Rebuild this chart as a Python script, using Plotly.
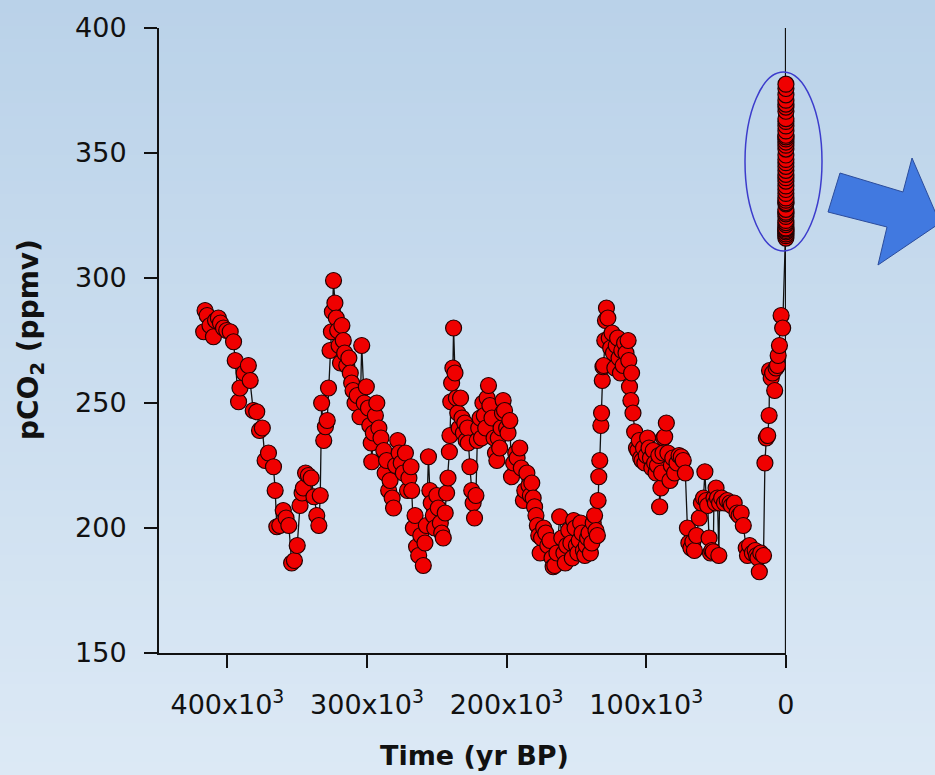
import plotly.graph_objects as go

# ---------------- data ----------------
# Vostok-type ice-core record: age in kyr BP, CO2 in ppmv
age_kyr = [
    417.0, 416.0, 414.5, 412.5, 410.0, 408.5, 406.5, 405.0, 402.8, 400.5,
    398.0, 395.6, 394.4, 392.0, 391.0, 388.0, 385.0, 383.7, 381.5, 379.0,
    377.0, 375.0, 373.0, 370.6, 367.0, 365.8, 364.6, 362.5, 360.0, 358.0,
    356.0, 354.0, 352.0, 350.0, 348.0, 346.5, 345.6, 344.0, 342.0, 340.0,
    338.0, 336.0, 334.5, 333.5, 332.5, 331.0, 329.8, 328.5, 327.6, 326.5,
    325.5, 324.8, 324.0, 323.0, 322.0, 321.0, 320.0, 319.0, 318.0, 317.0,
    316.0, 314.5, 313.0, 312.0, 311.0, 310.0, 308.6, 307.0, 305.0, 303.8,
    302.0, 300.5, 299.0, 298.0, 297.0, 296.6, 295.5, 294.0, 293.0, 291.5,
    290.0, 288.0, 287.0, 286.0, 284.5, 283.5, 282.0, 281.0, 279.5, 278.0,
    277.0, 275.5, 274.0, 272.5, 271.0, 270.0, 268.5, 268.0, 266.8, 265.6,
    264.5, 263.0, 261.5, 259.7, 258.5, 257.5, 256.0, 255.0, 254.0, 252.5,
    251.5, 250.0, 249.0, 247.5, 246.5, 245.4, 244.0, 243.0, 242.0, 241.0,
    240.6, 240.0, 239.4, 238.5, 238.0, 237.0, 236.0, 235.0, 234.0, 233.0,
    232.0, 231.0, 230.0, 229.0, 228.0, 227.5, 226.3, 225.0, 224.0, 223.0,
    222.0, 221.0, 220.0, 219.0, 218.0, 217.0, 216.0, 215.0, 214.0, 213.0,
    212.0, 210.5, 209.0, 208.0, 207.0, 206.0, 205.0, 204.0, 203.0, 202.5,
    201.5, 200.0, 199.0, 197.7, 196.5, 195.0, 193.5, 192.5, 190.6, 189.5,
    188.0, 187.0, 185.5, 184.0, 183.0, 182.0, 181.0, 180.0, 179.0, 178.0,
    177.0, 176.0, 175.0, 173.5, 172.0, 170.5, 169.0, 167.5, 166.7, 165.5,
    164.0, 162.0, 160.5, 159.0, 158.0, 157.0, 155.5, 154.0, 153.0, 152.0,
    151.0, 150.0, 149.0, 148.0, 147.0, 146.0, 145.0, 144.0, 143.0, 142.0,
    141.0, 140.0, 139.0, 138.0, 137.0, 136.0, 135.0, 134.5, 134.0, 133.3,
    132.5, 132.0, 131.5, 131.0, 130.5, 129.7, 129.2, 128.5, 127.5, 126.5,
    125.5, 124.5, 123.5, 122.5, 121.5, 120.5, 119.5, 118.5, 117.5, 116.5,
    115.5, 114.5, 113.0, 112.5, 112.0, 111.0, 110.5, 109.5, 108.3, 107.0,
    106.0, 105.0, 104.0, 103.0, 102.0, 101.0, 100.0, 99.0, 98.0, 97.0,
    96.0, 95.0, 94.0, 93.0, 92.0, 91.0, 90.4, 89.5, 89.0, 88.0,
    87.5, 86.8, 85.6, 84.5, 83.0, 82.0, 81.0, 79.7, 78.0, 76.5,
    74.9, 73.5, 72.0, 70.5, 69.5, 68.0, 66.6, 65.5, 64.0, 62.0,
    60.5, 59.0, 58.0, 57.0, 56.0, 55.0, 54.0, 53.0, 52.0, 51.5,
    50.5, 50.0, 49.0, 48.0, 47.5, 46.0, 44.0, 42.0, 40.0, 39.0,
    37.0, 35.0, 33.5, 32.0, 30.5, 28.4, 27.5, 26.0, 24.0, 22.0,
    21.0, 20.0, 19.0, 18.0, 16.0, 15.0, 14.0, 13.0, 12.0, 11.7,
    10.5, 9.5, 8.0, 7.0, 6.0, 5.5, 4.6, 3.4, 2.3,
]
co2_ice = [
    278.5, 287, 285, 281, 276.5, 283, 284, 282, 280, 279,
    278.5, 274.5, 267, 250.5, 256, 262, 265, 259, 247, 246.5,
    239, 240, 227, 230, 224.5, 215, 200.5, 201, 207, 204,
    201, 186, 187, 193, 209, 214, 216, 222, 221, 220,
    212.5, 205, 201, 213, 250, 235, 240.5, 243, 256, 271,
    278.5, 286.5, 299, 290, 284, 279, 273, 266, 281, 275,
    270, 265, 268, 262, 258, 255, 250, 253, 244.5, 273,
    250, 256.5, 248, 241, 234, 226.5, 238, 245, 250, 240,
    236, 231, 222, 227, 215, 219, 212, 208, 225, 235,
    230, 226, 222, 230, 215, 220, 224.5, 215, 200, 205,
    192.5, 189, 197, 185, 194, 201, 228.5, 215, 210, 205,
    200, 213, 208, 202, 198, 196, 206, 214, 220, 230.5,
    237, 250.5, 258, 264, 280, 262, 252, 246, 240, 252,
    244, 238, 242, 235, 240, 234, 224.5, 215, 210, 204,
    213, 235, 240, 244, 236, 250, 245, 240, 252, 257,
    249, 244, 236, 230, 227, 236, 232, 240, 246, 251,
    247, 240, 238, 243, 220.5, 226, 230, 228, 232, 224,
    211, 215, 222, 217, 213, 218, 212, 208.5, 205, 201,
    197, 190, 196, 200, 198, 193, 195, 188, 184.5, 185,
    190, 204.5, 196, 190, 186, 193, 199, 194, 188, 203,
    200, 193, 190, 195, 202, 198, 191, 189, 193, 196,
    198, 190, 194, 202, 205, 199, 197, 211, 220.5, 227,
    241, 246, 259, 264.5, 265, 275, 283, 288, 284, 276,
    272, 278, 270, 264, 273, 276, 268, 262, 271, 265,
    274, 270, 275, 267, 256.5, 251, 262, 246, 238.5, 232,
    231, 235, 228, 227, 232, 226, 229, 236, 232, 228,
    224, 231, 226, 222, 225, 229, 208.5, 216, 222, 230,
    236, 236.5, 242, 230, 219, 225, 228, 222, 226, 229,
    228.5, 227, 222, 200, 194, 192, 194.5, 191, 197, 204,
    210, 212, 222.5, 211, 209, 196, 190, 191, 190.5, 212,
    210, 216, 212, 189, 210, 212, 210, 211, 210, 209,
    210, 206, 205, 206, 201, 192, 189, 193, 190, 191,
    189, 188, 182.5, 190, 189, 226, 236, 237, 245, 263,
    260, 262, 255, 264, 265, 269, 273, 285, 280,
]
# Instrumental (Mauna Loa) annual means, calendar year and ppmv
ml_year = list(range(1959, 2005))
co2_ml = [
    315.97, 316.91, 317.64, 318.45, 318.99, 319.62, 320.04, 321.38, 322.16, 323.04,
    324.62, 325.68, 326.32, 327.45, 329.68, 330.18, 331.11, 332.04, 333.83, 335.40,
    336.84, 338.75, 340.11, 341.45, 343.05, 344.65, 346.12, 347.42, 349.19, 351.57,
    353.12, 354.39, 355.61, 356.45, 357.10, 358.83, 360.82, 362.61, 363.73, 366.70,
    368.38, 369.55, 371.14, 373.28, 375.80, 377.52,
]
x_tick_vals = [400000, 300000, 200000, 100000, 0]
x_tick_text = ["400x10<sup>3</sup>", "300x10<sup>3</sup>", "200x10<sup>3</sup>",
               "100x10<sup>3</sup>", "0"]
y_tick_vals = [150, 200, 250, 300, 350, 400]

# ---------------- build series ----------------
x_all = [a * 1000 for a in age_kyr] + [1950 - y for y in ml_year]
y_all = co2_ice + co2_ml

W, H = 935, 775
L, R, T, B = 159, 149, 28, 122
PW, PH = W - L - R, H - T - B


def xp(px):
    return (px - L) / PW


def yp(py):
    return (H - B - py) / PH


shapes = []
# background gradient (light blue, lighter towards the bottom)
N = 60
c0 = (186, 210, 233)
c1 = (220, 233, 245)
for i in range(N):
    t = i / (N - 1)
    col = tuple(round(c0[k] + (c1[k] - c0[k]) * t) for k in range(3))
    shapes.append(dict(type="rect", xref="paper", yref="paper",
                       x0=xp(0), x1=xp(W), y0=yp(i * H / N), y1=yp((i + 1) * H / N + 1),
                       fillcolor="rgb(%d,%d,%d)" % col, line=dict(width=0), layer="below"))
# right frame line at x = 0
shapes.append(dict(type="line", xref="x", yref="paper", x0=0, x1=0, y0=0, y1=1,
                   line=dict(color="#111111", width=2), layer="below"))
# ellipse around modern values
shapes.append(dict(type="circle", xref="paper", yref="paper",
                   x0=xp(745), x1=xp(822), y0=yp(251), y1=yp(72),
                   line=dict(color="#3c3ccc", width=1.5), layer="above"))
# block arrow
pts = [(840, 173), (903, 192), (912, 158), (940, 223), (878, 265), (887, 227), (828, 212)]
path = "M " + " L ".join("%.4f,%.4f" % (xp(a), yp(b)) for a, b in pts) + " Z"
shapes.append(dict(type="path", xref="paper", yref="paper", path=path,
                   fillcolor="#4179e0", line=dict(color="#2b4c9c", width=1), layer="above"))

fig = go.Figure()
fig.add_trace(go.Scatter(
    x=x_all, y=y_all, mode="lines+markers",
    line=dict(color="#111111", width=1.3),
    marker=dict(size=16, color="#f00000", line=dict(color="#220000", width=1.2)),
    cliponaxis=False, showlegend=False, hoverinfo="skip",
))

tick_font = dict(family="DejaVu Sans", size=27, color="#111111")
fig.update_layout(
    width=W, height=H,
    margin=dict(l=L, r=R, t=T, b=B, autoexpand=False),
    paper_bgcolor="rgb(204,222,240)",
    plot_bgcolor="rgba(0,0,0,0)",
    shapes=shapes,
    xaxis=dict(range=[449000, -100], tickvals=x_tick_vals, ticktext=x_tick_text,
               showgrid=False, zeroline=False, showline=True, linecolor="#111111",
               linewidth=2, ticks="outside", ticklen=13, tickwidth=2, tickcolor="#111111",
               tickfont=tick_font, ticklabelstandoff=14),
    yaxis=dict(range=[150, 400], tickvals=y_tick_vals,
               showgrid=False, zeroline=False, showline=True, linecolor="#111111",
               linewidth=2, ticks="outside", ticklen=13, tickwidth=2, tickcolor="#111111",
               tickfont=tick_font, ticklabelstandoff=12),
    annotations=[
        dict(text="<b>pCO<sub>2</sub> (ppmv)</b>", xref="paper", yref="paper",
             x=xp(30), y=yp(340), textangle=-90, showarrow=False,
             xanchor="center", yanchor="middle",
             font=dict(family="DejaVu Sans", size=28, color="#111111")),
        dict(text="<b>Time (yr BP)</b>", xref="paper", yref="paper",
             x=xp(474), y=yp(755), showarrow=False, xanchor="center", yanchor="middle",
             font=dict(family="DejaVu Sans", size=27, color="#111111")),
    ],
)

fig.write_html("out.html", config={"displayModeBar": False},
               post_script="document.body.style.margin='0';document.body.style.overflow='hidden';")
